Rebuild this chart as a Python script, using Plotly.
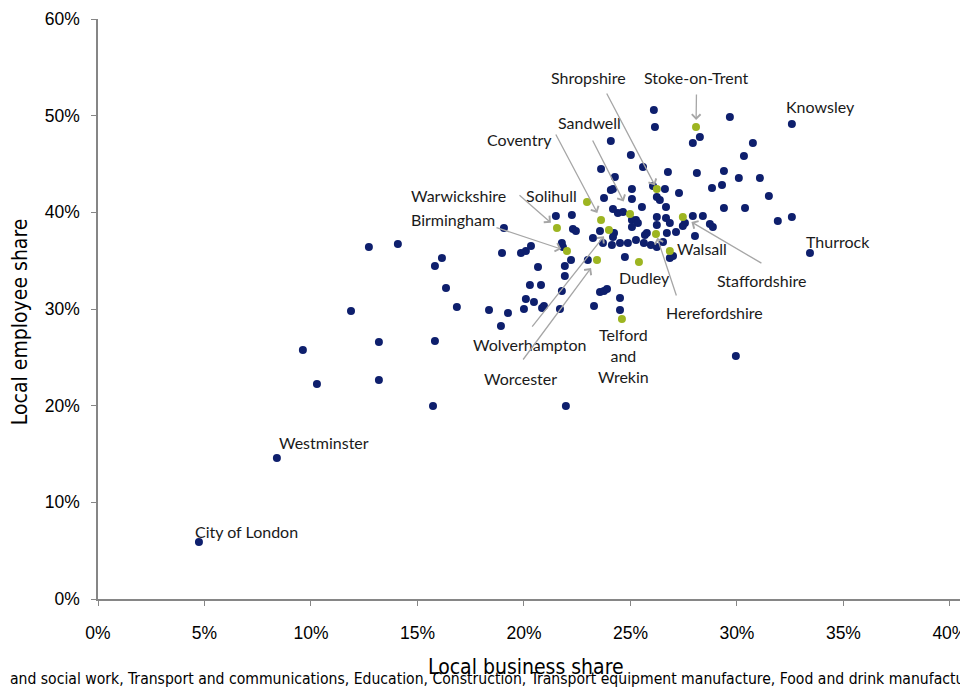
import plotly.graph_objects as go

# Local authorities (blue): local business share (%), local employee share (%)
blue_x = [4.74, 8.40, 9.62, 10.28, 11.88, 12.72, 14.08, 13.19, 13.19, 15.73,
          15.82, 15.82, 16.15, 16.34, 16.85, 18.36, 19.25, 18.92, 19.06, 18.97,
          19.86, 20.09, 20.33, 20.66, 20.28, 20.80, 20.09, 20.47, 20.00, 20.85,
          20.94, 21.69, 21.78, 21.92, 21.92, 22.21, 21.78, 21.83, 21.50, 22.25,
          22.30, 22.44, 21.97, 23.29, 23.57, 23.76, 23.90, 24.51, 24.51, 23.00,
          23.24, 23.57, 23.71, 24.13, 24.23, 24.18, 24.51, 24.88, 24.74, 25.26,
          25.68, 25.63, 25.96, 26.24, 25.77, 26.53, 26.71, 27.14, 28.03, 26.85,
          27.00, 23.76, 24.08, 24.18, 24.41, 24.65, 24.18, 25.07, 25.07, 25.54,
          25.07, 25.26, 25.35, 25.07, 26.24, 26.67, 26.85, 26.24, 26.06, 26.62,
          26.24, 26.38, 27.28, 26.67, 27.56, 27.46, 27.93, 28.40, 28.73, 28.87,
          26.10, 26.15, 24.08, 25.02, 23.62, 24.27, 25.59, 26.76, 28.12, 29.39,
          30.09, 31.08, 28.83, 29.30, 31.50, 29.39, 30.38, 31.92, 32.58, 29.67,
          28.26, 27.93, 30.75, 30.33, 32.58, 33.43, 29.95]
blue_y = [5.90, 14.59, 25.76, 22.24, 29.79, 36.41, 36.72, 26.59, 22.65, 19.96,
          26.69, 34.45, 35.27, 32.17, 30.21, 29.90, 29.59, 28.24, 38.38, 35.79,
          35.79, 36.00, 36.52, 34.34, 32.48, 32.48, 31.03, 30.72, 30.00, 30.10,
          30.31, 30.00, 31.86, 33.41, 34.45, 35.07, 36.83, 36.41, 39.62, 39.72,
          38.27, 38.07, 19.96, 30.31, 31.76, 31.86, 32.07, 31.14, 29.90, 35.07,
          37.34, 38.07, 36.83, 36.62, 37.86, 37.45, 36.83, 36.83, 35.38, 37.14,
          37.65, 36.83, 36.62, 36.41, 37.86, 36.93, 37.86, 37.96, 37.55, 35.27,
          35.48, 41.48, 42.31, 42.41, 39.93, 40.03, 40.34, 41.38, 42.41, 40.55,
          39.21, 39.21, 38.90, 38.48, 39.52, 39.41, 38.90, 38.69, 42.72, 42.41,
          41.59, 41.27, 42.00, 40.55, 38.90, 38.59, 39.62, 39.62, 38.79, 38.48,
          50.58, 48.83, 47.38, 45.93, 44.48, 43.65, 44.69, 44.17, 44.07, 44.27,
          43.55, 43.55, 42.52, 42.83, 41.69, 40.45, 40.45, 39.10, 39.52, 49.86,
          47.79, 47.17, 47.17, 45.83, 49.14, 35.79, 25.14]

# West Midlands authorities (green)
green_names = ["Stoke-on-Trent", "Shropshire", "Sandwell", "Coventry", "Wolverhampton",
               "Solihull", "Warwickshire", "Birmingham", "Walsall", "Herefordshire",
               "Dudley", "Staffordshire", "Worcester", "Telford and Wrekin"]
green_x = [28.08, 26.24, 24.98, 23.62, 23.99, 22.96, 21.55, 22.02, 26.85, 26.20,
           25.40, 27.46, 23.43, 24.60]
green_y = [48.83, 42.41, 39.83, 39.21, 38.17, 41.07, 38.38, 36.00, 36.00, 37.76,
           34.86, 39.52, 35.07, 28.96]

# Label texts and their positions (data units)
label_text = ["Shropshire", "Stoke-on-Trent", "Knowsley", "Sandwell", "Coventry",
              "Warwickshire", "Solihull", "Birmingham", "Walsall", "Dudley",
              "Staffordshire", "Herefordshire", "Wolverhampton", "Worcester",
              "Telford<br>and<br>Wrekin", "Thurrock", "Westminster", "City of London"]
label_x = [23.05, 28.12, 33.94, 23.10, 19.81, 16.95, 21.27, 16.67, 28.36, 25.68,
           31.17, 28.97, 20.28, 19.86, 24.69, 34.74, 10.61, 6.95]
label_y = [54.0, 54.0, 50.9, 49.34, 47.58, 41.79, 41.79, 39.31, 36.21, 33.31,
           32.90, 29.59, 26.28, 22.86, 25.14, 37.03, 16.24, 7.03]

# Arrows: target authority, tail position (data units), standoff (px)
arrow_target = ["Shropshire", "Stoke-on-Trent", "Sandwell", "Coventry", "Warwickshire",
                "Birmingham", "Staffordshire", "Herefordshire", "Wolverhampton", "Worcester"]
arrow_tail_x = [23.85, 28.10, 23.19, 21.46, 19.72, 18.64, 31.22, 27.18, 20.33, 19.91]
arrow_tail_y = [52.45, 52.34, 47.58, 48.21, 41.90, 38.48, 34.65, 31.24, 28.03, 24.62]
arrow_standoff = [4, 7, 14, 8, 8, 6, 10, 4, 8, 10]

x_ticks = [0, 5, 10, 15, 20, 25, 30, 35, 40]
y_ticks = [0, 10, 20, 30, 40, 50, 60]

x_title = "Local business share"
y_title = "Local employee share"
caption = ("Sectors: Health care and social work, Transport and communications, Education, "
           "Construction, Transport equipment manufacture, Food and drink manufacture")

NAVY = "#0E1F6D"
GREEN = "#9DB521"
AXIS = "#868686"
ARROW = "#A6A6A6"
LABEL_FONT = dict(family="Lato", size=16, color="#1A1A1A")
TITLE_FAMILY = "DejaVu Sans Condensed, Liberation Sans, sans-serif"

fig = go.Figure()
fig.add_trace(go.Scatter(x=blue_x, y=blue_y, mode="markers",
                         marker=dict(color=NAVY, size=8), showlegend=False,
                         hoverinfo="x+y"))
fig.add_trace(go.Scatter(x=green_x, y=green_y, mode="markers", text=green_names,
                         marker=dict(color=GREEN, size=8), showlegend=False,
                         hoverinfo="text+x+y"))

annotations = []
for t, x, y in zip(label_text, label_x, label_y):
    annotations.append(dict(x=x, y=y, xref="x", yref="y", text=t, showarrow=False,
                            font=LABEL_FONT, xanchor="center", yanchor="middle"))
for name, tx, ty, so in zip(arrow_target, arrow_tail_x, arrow_tail_y, arrow_standoff):
    i = green_names.index(name)
    annotations.append(dict(x=green_x[i], y=green_y[i], xref="x", yref="y", text="",
                            showarrow=True, ax=tx, ay=ty, axref="x", ayref="y",
                            arrowhead=4, arrowsize=1.3, arrowwidth=1.3,
                            arrowcolor=ARROW, standoff=so))
# axis titles
annotations.append(dict(x=0.492, y=-0.117, xref="paper", yref="paper", text=x_title,
                        showarrow=False, xanchor="center", yanchor="middle",
                        font=dict(family=TITLE_FAMILY, size=21, color="#000000")))
annotations.append(dict(x=-0.0897, y=0.479, xref="paper", yref="paper", text=y_title,
                        showarrow=False, xanchor="center", yanchor="middle", textangle=-90,
                        font=dict(family=TITLE_FAMILY, size=21, color="#000000")))
# sector caption (runs off both edges in the reference)
annotations.append(dict(x=1.0138, y=-0.138, xref="paper", yref="paper", text=caption,
                        showarrow=False, xanchor="right", yanchor="middle",
                        font=dict(family=TITLE_FAMILY, size=15.6, color="#000000")))

fig.update_layout(
    width=968, height=687,
    margin=dict(l=90, r=8, t=11, b=96),
    paper_bgcolor="white", plot_bgcolor="white",
    annotations=annotations,
    xaxis=dict(range=[0, 40.85], tickvals=x_ticks, ticktext=[f"{v}%" for v in x_ticks],
               showgrid=False, zeroline=False, showline=True, linecolor=AXIS, linewidth=1.5,
               ticks="outside", ticklen=5, tickcolor=AXIS, tickwidth=1.2,
               ticklabelstandoff=12, automargin=False,
               tickfont=dict(family="Liberation Sans", size=17.5, color="#000000")),
    yaxis=dict(range=[0, 60], tickvals=y_ticks, ticktext=[f"{v}%" for v in y_ticks],
               showgrid=False, zeroline=False, showline=True, linecolor=AXIS, linewidth=1.5,
               ticks="outside", ticklen=5, tickcolor=AXIS, tickwidth=1.2,
               ticklabelstandoff=8, automargin=False,
               tickfont=dict(family="Liberation Sans", size=17.5, color="#000000")),
)

fig.write_html("out.html")
